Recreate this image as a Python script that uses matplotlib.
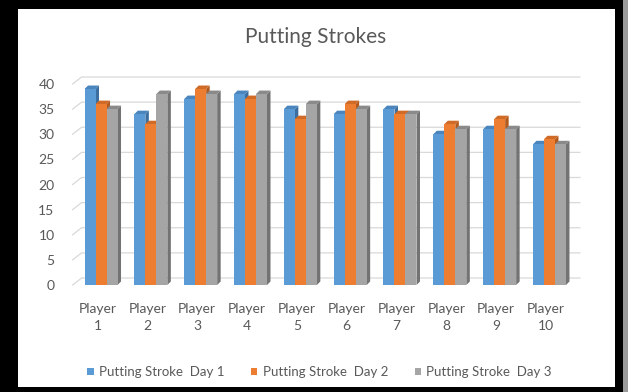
import matplotlib
matplotlib.use("Agg")
import matplotlib.pyplot as plt
from matplotlib.patches import Polygon, Rectangle

# strokes per player over three days
players = ["Player\n%d" % i for i in range(1, 11)]
day1 = [39, 34, 37, 38, 35, 34, 35, 30, 31, 28]
day2 = [36, 32, 39, 37, 33, 36, 34, 32, 33, 29]
day3 = [35, 38, 38, 38, 36, 35, 34, 31, 31, 28]
labels = ["Putting Stroke  Day 1", "Putting Stroke  Day 2", "Putting Stroke  Day 3"]

front_c = ["#5b9bd5", "#ed7d31", "#a5a5a5"]
side_c = ["#3c6fa0", "#b25a1e", "#737373"]
top_c = ["#4a85bd", "#cf6a27", "#8a8a8a"]
grey_txt = "#595959"

plt.rcParams["font.family"] = ["Lato", "DejaVu Sans"]

W, H = 628, 392
fig = plt.figure(figsize=(W / 100, H / 100), dpi=100, facecolor="black")
# white card inside the thick black frame, grey shadow strip on the right
fig.add_artist(Rectangle((18 / W, 5 / H), 597 / W, 378 / H, transform=fig.transFigure,
                         facecolor="white", edgecolor="none", zorder=-5))
fig.add_artist(Rectangle((623 / W, 0), 5 / W, 1, transform=fig.transFigure,
                         facecolor="#9a9a9a", edgecolor="none", zorder=-5))

# axes box = front plane of the 3d floor
ax_l, ax_r, ax_t, ax_b = 72.6, 570.9, 84, 285
ax = fig.add_axes([ax_l / W, (H - ax_b) / H, (ax_r - ax_l) / W, (ax_b - ax_t) / H])
ax.set_facecolor("none")
ax.set_xlim(-0.5, 9.5)
ax.set_ylim(0, 40)
sx = (ax_r - ax_l) / 10.0   # px per category
sy = (ax_b - ax_t) / 40.0   # px per stroke

# back wall offset and bar depth, in data units
wx, wy = 9 / sx, 7 / sy
bx, by = 3.5 / sx, 3.5 / sy
bw = 11 / sx
off = 3.5 / sx

for v in range(0, 41, 5):
    ax.plot([-0.5, -0.5 + wx, 9.5 + wx], [v, v + wy, v + wy], color="#d9d9d9",
            lw=0.9, clip_on=False, zorder=1)

for j, vals in enumerate([day1, day2, day3]):
    for i, v in enumerate(vals):
        x0 = i + off + (j - 1.5) * bw
        x1 = x0 + bw
        z = 3 + j
        ax.add_patch(Polygon([(x1, 0), (x1 + bx, by), (x1 + bx, v + by), (x1, v)],
                             facecolor=side_c[j], edgecolor="none", zorder=z, clip_on=False))
        ax.add_patch(Polygon([(x0, v), (x0 + bx, v + by), (x1 + bx, v + by), (x1, v)],
                             facecolor=top_c[j], edgecolor="none", zorder=z, clip_on=False))
        ax.add_patch(Rectangle((x0, 0), bw, v, facecolor=front_c[j], edgecolor="none",
                               zorder=z, clip_on=False))

ax.set_xticks(range(10))
ax.set_xticklabels(players, linespacing=1.45)
ax.set_yticks(range(0, 41, 5))
ax.tick_params(axis="x", length=0, pad=13, labelsize=10, labelcolor=grey_txt)
ax.tick_params(axis="y", length=0, pad=13, labelsize=10, labelcolor=grey_txt)
for s in ax.spines.values():
    s.set_visible(False)

fig.text(316 / W, 1 - 37 / H, "Putting Strokes", ha="center", va="center",
         fontsize=15, color=grey_txt)

handles = [Rectangle((0, 0), 1, 1, facecolor=c, edgecolor="none") for c in front_c]
fig.legend(handles, labels, loc="center", bbox_to_anchor=(319.5 / W, 1 - 372 / H), ncol=3,
           frameon=False, fontsize=9.5, labelcolor=grey_txt, handlelength=0.5,
           handleheight=0.5, handletextpad=0.4, columnspacing=2.0)

fig.savefig("out.png", dpi=100, facecolor="black")
